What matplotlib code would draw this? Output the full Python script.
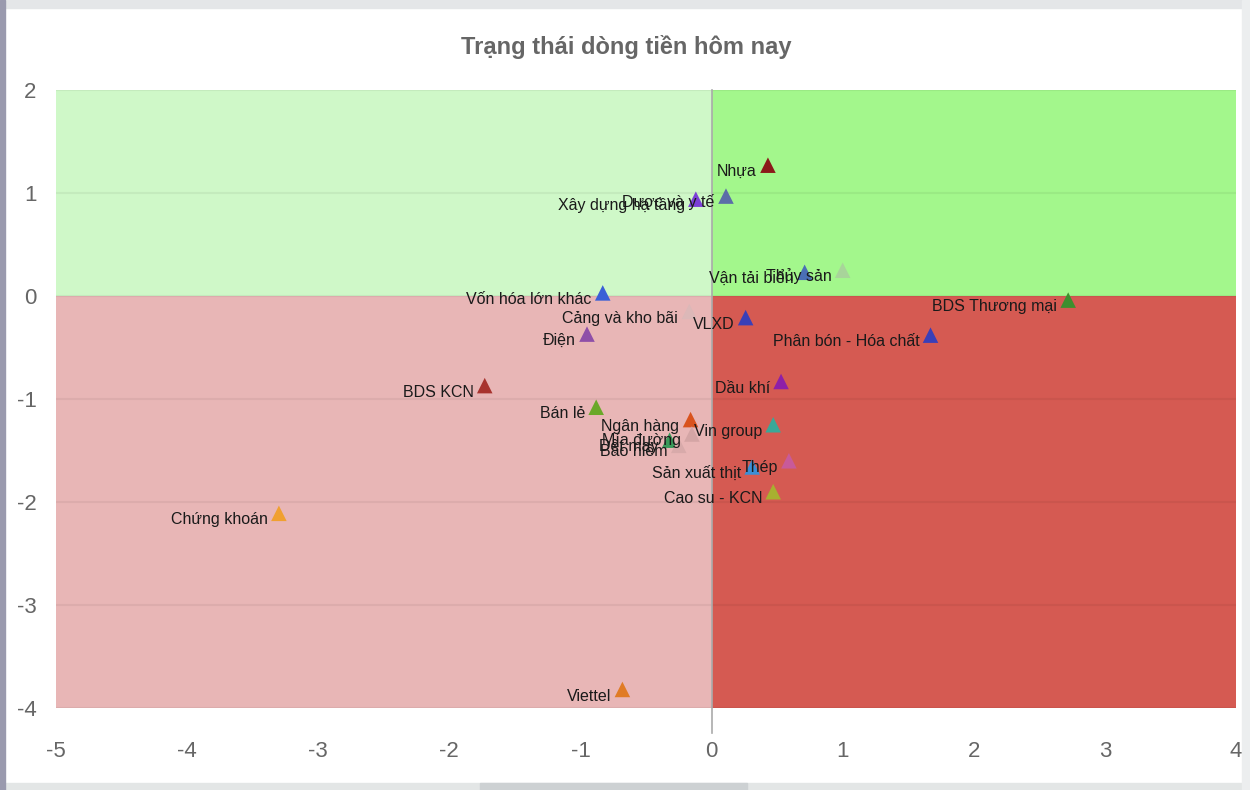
import matplotlib
matplotlib.use("Agg")
import matplotlib.pyplot as plt
from matplotlib.patches import Rectangle

plt.rcParams["font.family"] = ["Liberation Sans", "DejaVu Sans"]
plt.rcParams["axes.unicode_minus"] = False

# Sector cash-flow positions
sectors = ["Nhựa", "Xây dựng hạ tầng", "Dược và y tế", "Vận tải biển", "Thủy sản",
           "BDS Thương mại", "Vốn hóa lớn khác", "Cảng và kho bãi", "VLXD", "Điện",
           "Phân bón - Hóa chất", "BDS KCN", "Dầu khí", "Bán lẻ", "Ngân hàng",
           "Vin group", "Mía đường", "Dệt may", "Bảo hiểm", "Sản xuất thịt",
           "Thép", "Cao su - KCN", "Chứng khoán", "Viettel"]
x_vals = [0.43, -0.12, 0.11, 0.71, 1.00,
          2.72, -0.83, -0.17, 0.26, -0.95,
          1.67, -1.73, 0.53, -0.88, -0.16,
          0.47, -0.15, -0.32, -0.25, 0.31,
          0.59, 0.47, -3.30, -0.68]
y_vals = [1.27, 0.94, 0.97, 0.23, 0.25,
          -0.04, 0.03, -0.15, -0.21, -0.37,
          -0.38, -0.87, -0.83, -1.08, -1.20,
          -1.25, -1.34, -1.40, -1.45, -1.66,
          -1.60, -1.90, -2.11, -3.82]
marker_colors = ["#8b1a1a", "#7b3fd6", "#5b6ea8", "#4a6fb5", "#a8d49a",
                 "#3e8e2e", "#3a5fd6", "#dcb8b8", "#3a3fb8", "#8e4fa8",
                 "#3a3fb8", "#a8332e", "#8e1fa8", "#6aa829", "#d9531e",
                 "#3aa898", "#d4a5a5", "#3a9a5a", "#d8aaaa", "#3a8fd6",
                 "#c85a9a", "#a8b030", "#f0a030", "#e07b25"]

fig = plt.figure(figsize=(12.5, 7.9), dpi=100)

# page chrome around the chart
fig.patches.append(Rectangle((0, 1 - 8 / 790), 1, 8 / 790, transform=fig.transFigure,
                             color="#e4e6e8", zorder=0))
fig.patches.append(Rectangle((0, 0), 1, 7 / 790, transform=fig.transFigure,
                             color="#e3e6e6", zorder=0))
fig.patches.append(Rectangle((480 / 1250, 0), 267 / 1250, 7 / 790, transform=fig.transFigure,
                             color="#cdd1d3", zorder=0))
fig.patches.append(Rectangle((0, 0), 5 / 1250, 1, transform=fig.transFigure,
                             color="#9a9aae", zorder=0))
fig.patches.append(Rectangle((1242 / 1250, 0), 8 / 1250, 1, transform=fig.transFigure,
                             color="#eceeef", zorder=0))

ax = fig.add_axes([56 / 1250, 1 - 708 / 790, 1180 / 1250, 618 / 790])
ax.set_xlim(-5, 4)
ax.set_ylim(-4, 2)

# quadrant backgrounds
ax.fill_between([-5, 0], 0, 2, color="#cff8c8", lw=0, zorder=0)
ax.fill_between([0, 4], 0, 2, color="#a3f78c", lw=0, zorder=0)
ax.fill_between([-5, 0], -4, 0, color="#e8b6b6", lw=0, zorder=0)
ax.fill_between([0, 4], -4, 0, color="#d55a52", lw=0, zorder=0)

for yv in range(-4, 3):
    ax.axhline(yv, color="black", alpha=0.05, lw=1.5, zorder=1)
ax.plot([0, 0], [2, -4.24], color="#aaaaaa", lw=1.2, clip_on=False, zorder=1)

ax.scatter(x_vals, y_vals, marker="^", s=125, c=marker_colors, lw=0, zorder=3)
for name, xv, yv in zip(sectors, x_vals, y_vals):
    ax.annotate(name, (xv, yv), xytext=(-8, -8), textcoords="offset points",
                ha="right", va="baseline", fontsize=11.5, color="#1a1a1a", zorder=4)

for s in ax.spines.values():
    s.set_visible(False)
ax.set_xticks(range(-5, 5))
ax.set_yticks(range(-4, 3))
ax.tick_params(axis="x", length=0, pad=24, labelsize=16, labelcolor="#666666")
ax.tick_params(axis="y", length=0, pad=14, labelsize=16, labelcolor="#666666")

fig.text(626 / 1250, 1 - 47 / 790, "Trạng thái dòng tiền hôm nay", ha="center", va="center",
         fontsize=17, fontweight="bold", color="#666666")

fig.savefig("out.png", dpi=100)
